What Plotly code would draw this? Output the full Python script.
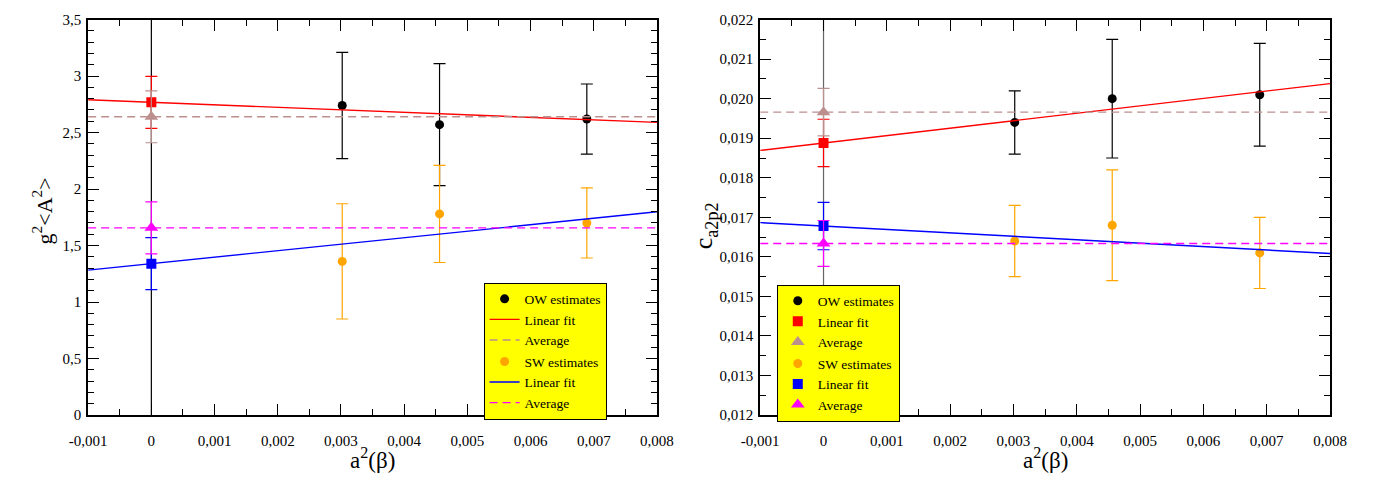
import plotly.graph_objects as go

# ---------------- data ----------------
a2_values = [0.00302, 0.00456, 0.00689]          # a^2(beta) of the lattice estimates

# left panel: g^2 <A^2>
ow_A2 = [2.74, 2.57, 2.62]
ow_A2_err = [0.47, 0.54, 0.31]
sw_A2 = [1.36, 1.78, 1.70]
sw_A2_err = [0.51, 0.43, 0.31]
ow_A2_fit = [2.768, -22.2]      # intercept, slope
ow_A2_fit_err = 0.23
ow_A2_avg = 2.64
ow_A2_avg_err = 0.23
sw_A2_fit = [1.340, 57.4]
sw_A2_fit_err = 0.23
sw_A2_avg = 1.657
sw_A2_avg_err = 0.23

# right panel: c_a2p2
ow_c = [0.0194, 0.0200, 0.0201]
ow_c_err = [0.0008, 0.0015, 0.0013]
sw_c = [0.0164, 0.0168, 0.0161]
sw_c_err = [0.0009, 0.0014, 0.0009]
ow_c_fit = [0.01888, 0.1878]
ow_c_fit_err = 0.0006
ow_c_avg = 0.01966
ow_c_avg_err = 0.0006
sw_c_fit = [0.01678, -0.0867]
sw_c_fit_err = 0.0006
sw_c_avg = 0.01634
sw_c_avg_err = 0.00058

x_range = [-0.001, 0.008]
x_tick_vals = [-0.001, 0, 0.001, 0.002, 0.003, 0.004, 0.005, 0.006, 0.007, 0.008]
x_tick_labels = ["-0,001", "0", "0,001", "0,002", "0,003", "0,004", "0,005", "0,006", "0,007", "0,008"]

# ---------------- colours ----------------
BLACK = "#000000"
ORANGE = "#FFA500"
RED = "#FF0000"
BROWN = "#BC8F8F"
BLUE = "#0000FF"
MAGENTA = "#FF00FF"

W, H = 1385, 483
FONT = "Liberation Serif, Times New Roman, Times, serif"

fig = go.Figure()


def err(v):
    return dict(type="data", array=v if isinstance(v, list) else [v], visible=True,
                thickness=1.2, width=6)


def add_panel(xa, ya, legend, data, lines_in_legend):
    (ow, ow_e, sw, sw_e, owf, owf_e, owa, owa_e, swf, swf_e, swa, swa_e) = data
    groups = [
        ("OW estimates", ow, ow_e, BLACK, owf, owf_e, RED, owa, owa_e, BROWN, "ow"),
        ("SW estimates", sw, sw_e, ORANGE, swf, swf_e, BLUE, swa, swa_e, MAGENTA, "sw"),
    ]
    for (name, vals, verr, col, fit, fit_e, fcol, avg, avg_e, acol, grp) in groups:
        fit_y = [fit[0] + fit[1] * xv for xv in x_range]
        # data points
        fig.add_trace(go.Scatter(
            x=a2_values, y=vals, mode="markers", name=name,
            marker=dict(symbol="circle", size=9, color=col),
            error_y=dict(err(verr), color=col),
            xaxis=xa, yaxis=ya, legend=legend, legendgroup=grp + legend))
        # fit line
        fig.add_trace(go.Scatter(
            x=x_range, y=fit_y, mode="lines", name="Linear fit",
            line=dict(color=fcol, width=1.4),
            showlegend=lines_in_legend,
            xaxis=xa, yaxis=ya, legend=legend, legendgroup=grp + legend))
        # fit extrapolation
        fig.add_trace(go.Scatter(
            x=[0], y=[fit[0]], mode="markers", name="Linear fit",
            marker=dict(symbol="square", size=10, color=fcol),
            error_y=dict(err(fit_e), color=fcol),
            showlegend=not lines_in_legend,
            xaxis=xa, yaxis=ya, legend=legend, legendgroup=grp + legend))
        # average line
        fig.add_trace(go.Scatter(
            x=x_range, y=[avg, avg], mode="lines", name="Average",
            line=dict(color=acol, width=1.4, dash="8px,5px"),
            showlegend=lines_in_legend,
            xaxis=xa, yaxis=ya, legend=legend, legendgroup=grp + legend))
        # average marker
        fig.add_trace(go.Scatter(
            x=[0], y=[avg], mode="markers", name="Average",
            marker=dict(symbol="triangle-up", size=12, color=acol),
            error_y=dict(err(avg_e), color=acol),
            showlegend=not lines_in_legend,
            xaxis=xa, yaxis=ya, legend=legend, legendgroup=grp + legend))


add_panel("x", "y", "legend",
          (ow_A2, ow_A2_err, sw_A2, sw_A2_err, ow_A2_fit, ow_A2_fit_err, ow_A2_avg, ow_A2_avg_err,
           sw_A2_fit, sw_A2_fit_err, sw_A2_avg, sw_A2_avg_err), True)
add_panel("x2", "y2", "legend2",
          (ow_c, ow_c_err, sw_c, sw_c_err, ow_c_fit, ow_c_fit_err, ow_c_avg, ow_c_avg_err,
           sw_c_fit, sw_c_fit_err, sw_c_avg, sw_c_avg_err), False)

# plot areas in pixels
L1, R1 = 71, 655
L2, R2 = 761, 1346
TOP, BOT = 12, 421


def px(x):
    return x / W


def py(y):
    return 1 - y / H


tickfont = dict(family=FONT, size=15, color="black")
common_x = dict(range=x_range, tickmode="array", tickvals=x_tick_vals, ticktext=x_tick_labels,
                ticks="inside", ticklen=11, tickwidth=1, tickcolor="black",
                minor=dict(tickmode="linear", tick0=-0.001, dtick=0.0005, ticks="inside",
                           ticklen=6, tickwidth=1, tickcolor="black"),
                showline=True, linewidth=2, linecolor="black", mirror="ticks",
                showgrid=False, zeroline=False, tickfont=tickfont, ticklabelstandoff=11)
common_y = dict(ticks="inside", ticklen=11, tickwidth=1, tickcolor="black",
                showline=True, linewidth=2, linecolor="black", mirror="ticks",
                showgrid=False, zeroline=False, tickfont=tickfont, ticklabelstandoff=2)

legend_common = dict(xanchor="left", yanchor="top", bgcolor="#FFFF00", bordercolor="black",
                     borderwidth=1, font=dict(family=FONT, size=13.5, color="black"),
                     traceorder="grouped", tracegroupgap=1, itemwidth=30)

fig.update_layout(
    width=W, height=H, margin=dict(l=0, r=0, t=0, b=0),
    paper_bgcolor="white", plot_bgcolor="white",
    separators=", ",
    xaxis=dict(common_x, domain=[px(L1), px(R1)], anchor="y"),
    yaxis=dict(common_y, domain=[py(BOT), py(TOP)], anchor="x", range=[0, 3.5],
               tick0=0, dtick=0.5,
               minor=dict(tick0=0, dtick=0.1, ticks="inside", ticklen=6, tickwidth=1,
                          tickcolor="black")),
    xaxis2=dict(common_x, domain=[px(L2), px(R2)], anchor="y2"),
    yaxis2=dict(common_y, domain=[py(BOT), py(TOP)], anchor="x2", range=[0.012, 0.022],
                tick0=0.012, dtick=0.001, tickformat=".3f",
                minor=dict(tick0=0.012, dtick=0.0005, ticks="inside", ticklen=6, tickwidth=1,
                           tickcolor="black")),
    legend=dict(legend_common, x=px(477), y=py(284)),
    legend2=dict(legend_common, x=px(778), y=py(286)),
    showlegend=True,
    shapes=[
        dict(type="line", xref="x", yref="y domain", x0=0, x1=0, y0=0, y1=1,
             line=dict(color="black", width=1.2), layer="below"),
        dict(type="line", xref="x2", yref="y2 domain", x0=0, x1=0, y0=0, y1=1,
             line=dict(color="#666666", width=1.2), layer="below"),
    ],
    annotations=[
        dict(text="g<sup>2</sup>&lt;A<sup>2</sup>&gt;", xref="paper", yref="paper",
             x=px(24), y=py(210), xanchor="center", yanchor="middle", textangle=-90,
             showarrow=False, font=dict(family=FONT, size=22, color="black")),
        dict(text="c<sub>a2p2</sub>", xref="paper", yref="paper",
             x=px(704), y=py(225), xanchor="center", yanchor="middle", textangle=-90,
             showarrow=False, font=dict(family=FONT, size=26, color="black")),
        dict(text="a<sup>2</sup>(β)", xref="paper", yref="paper",
             x=px((L1 + R1) / 2), y=py(466), xanchor="center", yanchor="middle",
             showarrow=False, font=dict(family=FONT, size=23, color="black")),
        dict(text="a<sup>2</sup>(β)", xref="paper", yref="paper",
             x=px((L2 + R2) / 2), y=py(466), xanchor="center", yanchor="middle",
             showarrow=False, font=dict(family=FONT, size=23, color="black")),
    ],
)

fig.write_html("out.html")
